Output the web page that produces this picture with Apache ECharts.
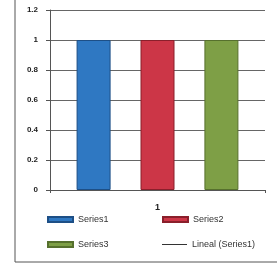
<!DOCTYPE html>
<html>
<head>
<meta charset="utf-8">
<script src="https://cdn.jsdelivr.net/npm/echarts@6/dist/echarts.min.js"></script>
<style>
  html, body { margin: 0; padding: 0; background: #fff; }
  #chart { width: 277px; height: 265px; }
</style>
</head>
<body>
<div id="chart"></div>
<script>
const categories = ['1'];
const series1 = [1];
const series2 = [1];
const series3 = [1];
const trend1 = [1];
const yTicks = [0, 0.2, 0.4, 0.6, 0.8, 1, 1.2];

const chart = echarts.init(document.getElementById('chart'));

const legendText = { fontSize: 9, color: '#333', fontFamily: '"Liberation Sans Narrow", "Liberation Sans", sans-serif' };
function legendAt(name, left, top, isLine) {
  return {
    data: [{ name: name, icon: 'rect' }],
    left: left, top: top,
    padding: 0,
    itemWidth: 25, itemHeight: isLine ? 1 : 5,
    itemGap: 2,
    textStyle: legendText,
    selectedMode: false
  };
}

const option = {
  animation: false,
  grid: { left: 50, right: 12, top: 10, bottom: 75 },
  graphic: [{
    type: 'polyline',
    shape: { points: [[15, 0], [15, 262], [277, 262]] },
    style: { stroke: '#555', lineWidth: 1, fill: null }
  }],
  legend: [
    legendAt('Series1', 47, 215, false),
    legendAt('Series2', 162, 215, false),
    legendAt('Series3', 47, 240, false),
    legendAt('Lineal (Series1)', 162, 240, true)
  ],
  xAxis: {
    type: 'category',
    data: categories,
    axisLine: { lineStyle: { color: '#555' } },
    axisTick: { show: true, alignWithLabel: false, length: 3, lineStyle: { color: '#555' } },
    axisLabel: { fontSize: 9, fontWeight: 'bold', color: '#222', margin: 13 }
  },
  yAxis: {
    type: 'value',
    min: yTicks[0],
    max: yTicks[yTicks.length - 1],
    interval: 0.2,
    axisLine: { show: true, lineStyle: { color: '#555' } },
    axisTick: { show: true, length: 4, lineStyle: { color: '#555' } },
    axisLabel: { fontSize: 8, fontWeight: 'bold', color: '#222', margin: 12 },
    splitLine: { lineStyle: { color: '#666', width: 1 } }
  },
  series: [
    { name: 'Series1', type: 'bar', data: series1, barWidth: 34, barGap: '88%',
      itemStyle: { color: '#2f78c2', borderColor: '#1d4f86', borderWidth: 1 } },
    { name: 'Series2', type: 'bar', data: series2, barWidth: 34, barGap: '88%',
      itemStyle: { color: '#cc3647', borderColor: '#8a1f2b', borderWidth: 1 } },
    { name: 'Series3', type: 'bar', data: series3, barWidth: 34, barGap: '88%',
      itemStyle: { color: '#7e9f46', borderColor: '#56702d', borderWidth: 1 } },
    { name: 'Lineal (Series1)', type: 'line', data: trend1, showSymbol: false,
      lineStyle: { color: '#333', width: 1 }, itemStyle: { color: '#333' } }
  ]
};

chart.setOption(option);
</script>
</body>
</html>
